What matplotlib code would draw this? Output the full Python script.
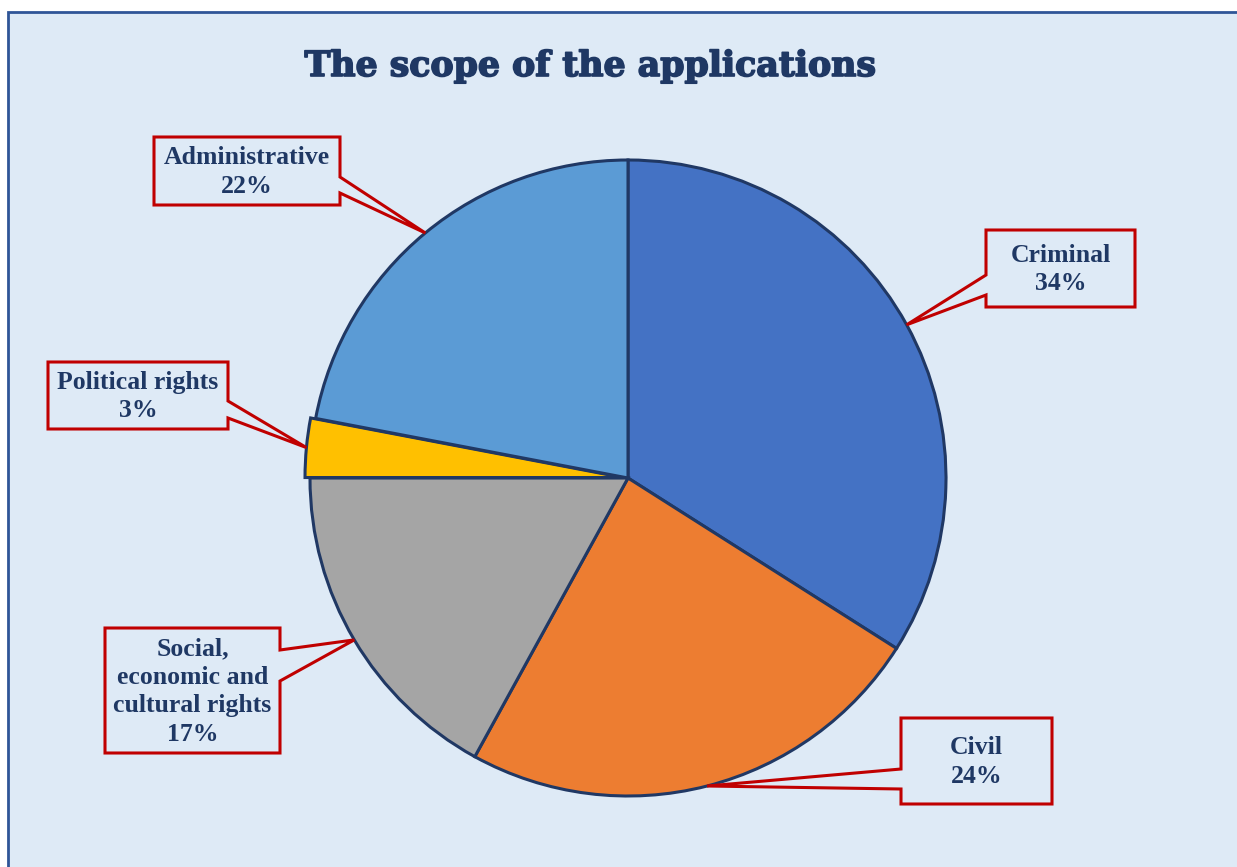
import matplotlib
matplotlib.use("Agg")
import matplotlib.pyplot as plt
from matplotlib.patches import Polygon, Rectangle
import matplotlib.patheffects as pe
import numpy as np

# data
categories = ["Criminal", "Civil", "Social,\neconomic and\ncultural rights", "Political rights", "Administrative"]
shares = [34, 24, 17, 3, 22]
colors = ["#4472C4", "#ED7D31", "#A5A5A5", "#FFC000", "#5B9BD5"]
explode = [0, 0, 0, 5, 0]

W, H = 1237, 867
bg = "#DEEAF6"
navy = "#1F3864"
red = "#C00000"

# pie geometry (pixels, top-left origin)
cx, cy, R = 628, 478, 318

# callout boxes: x0, x1, y0, y1, side of pointer, pointer base y's
boxes = [
    (986, 1135, 230, 307, "left", 275, 295),
    (901, 1052, 718, 804, "left", 769, 789),
    (105, 280, 628, 753, "right", 650, 681),
    (48, 228, 362, 429, "right", 401, 418),
    (154, 340, 137, 205, "right", 177, 193),
]

fig = plt.figure(figsize=(W / 100, H / 100), dpi=100)
fig.patch.set_facecolor("white")
ax = fig.add_axes([0, 0, 1, 1])

def fy(y):
    return H - y

# background panel with border
ax.add_patch(Rectangle((8, fy(H + 20)), W + 20, H + 8, facecolor=bg,
                       edgecolor="#2F5597", linewidth=2.0, zorder=0))

wedges, _ = ax.pie(shares, colors=colors, startangle=90, counterclock=False,
                   center=(cx, fy(cy)), radius=R, explode=explode,
                   wedgeprops=dict(edgecolor="#203864", linewidth=2.2))

ax.set_xlim(0, W)
ax.set_ylim(0, H)
ax.set_aspect("equal")
ax.axis("off")

total = sum(shares)
cum = 0
for i, (name, v) in enumerate(zip(categories, shares)):
    mid = np.deg2rad(90 - 360 * (cum + v / 2) / total)
    cum += v
    rr = R + explode[i]
    tx = cx + rr * np.cos(mid)
    ty = fy(cy) + rr * np.sin(mid)
    x0, x1, y0, y1, side, wa, wb = boxes[i]
    if side == "right":
        pts = [(x0, y0), (x1, y0), (x1, wa), None, (x1, wb), (x1, y1), (x0, y1)]
    else:
        pts = [(x0, y0), (x1, y0), (x1, y1), (x0, y1), (x0, wb), None, (x0, wa)]
    poly = []
    for p in pts:
        if p is None:
            poly.append((tx, ty))
        else:
            poly.append((p[0], fy(p[1])))
    ax.add_patch(Polygon(poly, closed=True, facecolor=bg, edgecolor=red,
                         linewidth=2.2, joinstyle="miter", zorder=5))
    ax.text((x0 + x1) / 2, fy((y0 + y1) / 2 + 1), f"{name}\n{v}%", ha="center", va="center",
            fontsize=18.5, fontweight="bold", family="Liberation Serif", color=navy,
            linespacing=1.3, zorder=6)

ax.text(590, fy(66), "The scope of the applications", ha="center", va="center",
        fontsize=25, fontweight="bold", family="DejaVu Serif", color=navy,
        path_effects=[pe.withStroke(linewidth=1.2, foreground=navy)])

fig.savefig("out.png", dpi=100)
